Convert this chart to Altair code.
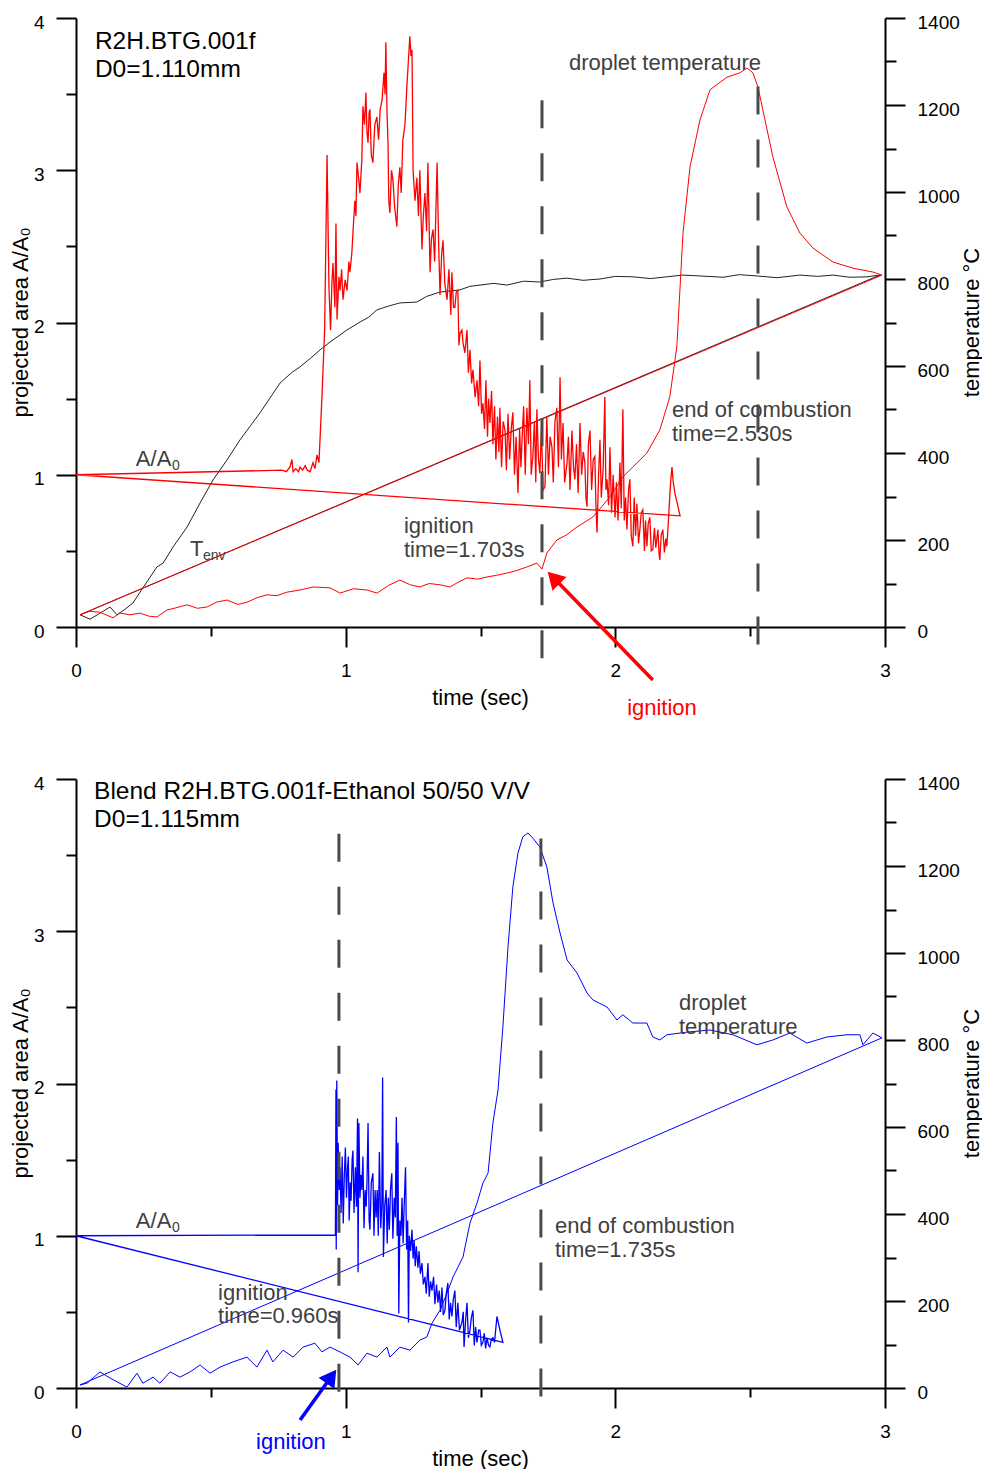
import altair as alt
import pandas as pd

FONT = "Liberation Sans"
GRAY = "#404040"
RED = "#ff0000"
BLUE = "#0000ff"
DARK = "#222222"
W, H = 809, 609

# ---------------- top panel (R2H.BTG.001f) ----------------
top_area_t = [0.000, 0.764, 0.780, 0.793, 0.801, 0.805, 0.815, 0.825, 0.831, 0.840, 0.850, 0.858, 0.868,
              0.879, 0.886, 0.894, 0.901, 0.912, 0.916, 0.922, 0.931, 0.938, 0.944, 0.949, 0.953, 0.960,
              0.964, 0.968, 0.975, 0.979, 0.985, 0.990, 0.998, 1.005, 1.012, 1.016, 1.023, 1.027, 1.034,
              1.038, 1.042, 1.048, 1.053, 1.060, 1.064, 1.070, 1.075, 1.079, 1.083, 1.087, 1.090, 1.095,
              1.101, 1.108, 1.116, 1.122, 1.128, 1.135, 1.142, 1.146, 1.149, 1.153, 1.157, 1.160, 1.164,
              1.170, 1.175, 1.182, 1.190, 1.195, 1.201, 1.206, 1.212, 1.220, 1.227, 1.232, 1.238, 1.242,
              1.246, 1.250, 1.257, 1.264, 1.270, 1.275, 1.283, 1.288, 1.294, 1.300, 1.305, 1.313, 1.318,
              1.324, 1.330, 1.339, 1.345, 1.350, 1.356, 1.361, 1.368, 1.376, 1.383, 1.390, 1.394, 1.400,
              1.405, 1.410, 1.416, 1.420, 1.424, 1.431, 1.435, 1.442, 1.450, 1.455, 1.461, 1.467, 1.472,
              1.480, 1.487, 1.493, 1.498, 1.504, 1.509, 1.515, 1.520, 1.526, 1.530, 1.535, 1.541, 1.546,
              1.552, 1.557, 1.563, 1.568, 1.572, 1.578, 1.584, 1.591, 1.596, 1.602, 1.608, 1.614, 1.620,
              1.626, 1.632, 1.639, 1.645, 1.650, 1.654, 1.660, 1.666, 1.672, 1.678, 1.683, 1.688, 1.694,
              1.700, 1.705, 1.709, 1.715, 1.720, 1.726, 1.732, 1.739, 1.746, 1.752, 1.758, 1.765, 1.770,
              1.776, 1.783, 1.789, 1.795, 1.800, 1.806, 1.812, 1.821, 1.826, 1.832, 1.839, 1.845, 1.850,
              1.856, 1.862, 1.869, 1.875, 1.881, 1.887, 1.891, 1.895, 1.900, 1.906, 1.912, 1.918, 1.924,
              1.928, 1.932, 1.938, 1.943, 1.948, 1.955, 1.961, 1.965, 1.969, 1.975, 1.980, 1.986, 1.992,
              1.999, 2.004, 2.010, 2.017, 2.022, 2.028, 2.033, 2.038, 2.043, 2.049, 2.054, 2.059, 2.065,
              2.070, 2.075, 2.080, 2.086, 2.091, 2.096, 2.102, 2.108, 2.112, 2.117, 2.122, 2.128, 2.133,
              2.139, 2.145, 2.150, 2.158, 2.162, 2.165, 2.170, 2.176, 2.182, 2.187, 2.191, 2.195, 2.200,
              2.205, 2.210, 2.215, 2.221, 2.240]
top_area_v = [1.00, 1.03, 1.02, 1.05, 1.10, 1.02, 1.04, 1.02, 1.05, 1.03, 1.06, 1.03, 1.02,
              1.08, 1.04, 1.13, 1.08, 1.51, 1.69, 1.95, 3.10, 2.23, 1.95, 2.26, 2.39, 2.10,
              2.65, 2.02, 2.30, 2.21, 2.35, 2.15, 2.28, 2.21, 2.40, 2.33, 2.46, 2.59, 2.80,
              2.70, 3.05, 2.95, 2.85, 3.07, 3.42, 3.30, 3.51, 3.25, 3.18, 3.38, 3.40, 3.10,
              3.05, 3.30, 3.35, 3.20, 3.40, 3.46, 3.64, 3.50, 3.84, 3.40, 3.18, 2.80, 2.72,
              3.00, 2.94, 2.75, 2.63, 2.90, 3.02, 2.85, 3.20, 3.30, 3.55, 3.70, 3.88, 3.75,
              3.79, 3.00, 2.80, 2.95, 2.70, 3.00, 2.48, 2.70, 2.85, 2.60, 3.05, 2.33, 2.55,
              2.61, 2.40, 3.05, 2.50, 2.18, 2.45, 2.54, 2.25, 2.15, 2.35, 2.05, 2.33, 2.10,
              2.10, 2.20, 2.21, 1.85, 1.93, 1.95, 1.87, 1.80, 1.95, 1.67, 1.82, 1.60, 1.69,
              1.51, 1.62, 1.45, 1.75, 1.40, 1.47, 1.30, 1.62, 1.25, 1.50, 1.34, 1.55, 1.20,
              1.45, 1.10, 1.38, 1.15, 1.44, 1.05, 1.35, 1.29, 1.03, 1.40, 1.10, 1.30, 1.41,
              1.00, 1.25, 0.88, 1.30, 1.05, 1.23, 1.45, 1.00, 1.44, 1.20, 1.62, 1.00, 1.12,
              1.35, 0.95, 1.43, 1.10, 1.01, 1.30, 0.90, 0.92, 1.38, 1.00, 1.25, 1.18, 0.95,
              1.35, 1.44, 1.05, 1.64, 1.10, 1.34, 0.95, 1.08, 1.25, 0.90, 1.29, 1.05, 0.97,
              1.20, 0.88, 1.34, 1.00, 1.15, 1.08, 0.85, 0.79, 1.20, 1.29, 0.90, 1.10, 1.12,
              0.80, 0.62, 1.00, 1.23, 0.85, 1.05, 1.51, 0.90, 0.97, 0.80, 1.18, 0.75, 1.00,
              0.72, 0.95, 0.70, 1.08, 0.78, 1.43, 0.70, 0.85, 0.64, 0.90, 0.97, 0.60, 0.53,
              0.85, 0.60, 0.81, 0.55, 0.64, 0.75, 0.77, 0.50, 0.70, 0.53, 0.68, 0.72, 0.50,
              0.51, 0.65, 0.52, 0.64, 0.48, 0.44, 0.60, 0.64, 0.49, 0.58, 0.53, 0.64, 0.80,
              0.95, 1.05, 0.95, 0.88, 0.73]

top_env_t = [0.015, 0.052, 0.090, 0.126, 0.152, 0.180, 0.211, 0.248, 0.300, 0.323, 0.360, 0.412, 0.460,
             0.508, 0.560, 0.608, 0.682, 0.757, 0.800, 0.831, 0.870, 0.905, 0.942, 1.005, 1.053, 1.085,
             1.116, 1.160, 1.201, 1.264, 1.300, 1.350, 1.424, 1.460, 1.498, 1.550, 1.598, 1.660, 1.720,
             1.770, 1.821, 1.880, 1.943, 2.000, 2.065, 2.130, 2.191, 2.250, 2.314, 2.400, 2.460, 2.525,
             2.600, 2.684, 2.750, 2.807, 2.870, 2.933, 2.981]
top_env_v = [28, 18, 32, 46, 28, 40, 55, 90, 138, 147, 184, 230, 285,
             338, 384, 430, 492, 561, 585, 598, 618, 637, 655, 683, 701, 712,
             729, 738, 745, 747, 760, 770, 775, 783, 786, 790, 786, 795, 793,
             799, 802, 797, 800, 806, 805, 801, 805, 809, 807, 804, 810, 807,
             803, 809, 806, 809, 804, 805, 809]

top_drop_t = [0.015, 0.050, 0.089, 0.137, 0.163, 0.200, 0.237, 0.270, 0.300, 0.337, 0.370, 0.412, 0.450,
              0.486, 0.520, 0.560, 0.600, 0.634, 0.670, 0.708, 0.745, 0.782, 0.830, 0.879, 0.942, 0.979,
              1.030, 1.079, 1.116, 1.160, 1.201, 1.240, 1.275, 1.310, 1.350, 1.387, 1.420, 1.450, 1.490,
              1.524, 1.560, 1.598, 1.635, 1.672, 1.709, 1.728, 1.746, 1.783, 1.820, 1.858, 1.917, 1.980,
              2.028, 2.065, 2.117, 2.165, 2.202, 2.228, 2.251, 2.277, 2.314, 2.351, 2.414, 2.462, 2.488,
              2.510, 2.529, 2.547, 2.584, 2.636, 2.684, 2.733, 2.807, 2.881, 2.955, 2.989]
top_drop_v = [28, 36, 34, 21, 32, 28, 32, 25, 23, 39, 44, 51, 43,
              46, 57, 62, 52, 57, 67, 74, 72, 80, 85, 92, 90, 78,
              88, 85, 78, 96, 108, 97, 92, 100, 97, 92, 104, 113, 110,
              115, 119, 124, 130, 138, 147, 133, 170, 200, 212, 230, 253, 299,
              345, 368, 400, 453, 529, 644, 906, 1058, 1166, 1235, 1264, 1274, 1285,
              1274, 1241, 1189, 1081, 966, 906, 871, 839, 825, 816, 809]

# ---------------- bottom panel (blend) ----------------
bot_area_t = [0.000, 0.962, 0.964, 0.965, 0.967, 0.970, 0.972, 0.976, 0.979, 0.983, 0.987, 0.991, 0.995,
              0.999, 1.003, 1.007, 1.010, 1.013, 1.017, 1.020, 1.024, 1.027, 1.031, 1.036, 1.040, 1.044,
              1.046, 1.049, 1.053, 1.057, 1.060, 1.064, 1.068, 1.072, 1.076, 1.079, 1.083, 1.087, 1.090,
              1.095, 1.101, 1.105, 1.109, 1.113, 1.117, 1.121, 1.125, 1.130, 1.134, 1.137, 1.140, 1.145,
              1.150, 1.154, 1.158, 1.162, 1.166, 1.171, 1.175, 1.180, 1.184, 1.188, 1.191, 1.194, 1.197,
              1.201, 1.205, 1.209, 1.213, 1.217, 1.222, 1.226, 1.230, 1.233, 1.236, 1.241, 1.246, 1.250,
              1.254, 1.258, 1.262, 1.268, 1.272, 1.277, 1.283, 1.288, 1.294, 1.299, 1.305, 1.310, 1.315,
              1.320, 1.326, 1.331, 1.337, 1.342, 1.347, 1.352, 1.357, 1.362, 1.368, 1.373, 1.379, 1.384,
              1.389, 1.394, 1.399, 1.405, 1.410, 1.416, 1.422, 1.431, 1.436, 1.439, 1.445, 1.450, 1.455,
              1.461, 1.466, 1.472, 1.477, 1.482, 1.487, 1.493, 1.498, 1.503, 1.509, 1.514, 1.519, 1.524,
              1.530, 1.535, 1.540, 1.546, 1.552, 1.561, 1.572, 1.583]
bot_area_v = [1.00, 1.005, 1.96, 0.91, 2.02, 1.20, 1.61, 1.30, 1.45, 1.15, 1.52, 1.08, 1.40,
              1.58, 1.25, 1.45, 1.52, 1.10, 1.35, 1.23, 1.50, 1.56, 1.15, 1.45, 1.19, 1.77,
              0.76, 1.74, 1.25, 1.40, 1.30, 1.52, 1.05, 1.30, 1.19, 1.35, 1.74, 1.10, 1.04,
              1.35, 1.41, 1.00, 1.30, 1.12, 1.30, 1.00, 1.55, 1.05, 1.20, 2.04, 0.86, 1.20,
              1.30, 0.95, 1.25, 1.04, 1.30, 1.41, 0.98, 1.25, 1.12, 1.78, 1.00, 1.61, 0.49,
              1.10, 1.00, 1.25, 0.95, 1.20, 1.45, 0.91, 1.10, 0.43, 1.00, 0.90, 1.04, 0.85,
              0.97, 0.80, 0.93, 0.79, 0.90, 0.75, 0.82, 0.68, 0.73, 0.62, 0.82, 0.60, 0.70,
              0.64, 0.73, 0.55, 0.68, 0.56, 0.64, 0.50, 0.66, 0.48, 0.51, 0.62, 0.69, 0.45,
              0.56, 0.47, 0.58, 0.64, 0.40, 0.56, 0.38, 0.43, 0.50, 0.27, 0.45, 0.56, 0.33,
              0.38, 0.46, 0.51, 0.28, 0.40, 0.30, 0.38, 0.38, 0.28, 0.30, 0.36, 0.26, 0.33,
              0.28, 0.27, 0.32, 0.33, 0.30, 0.47, 0.38, 0.30]

bot_drop_t = [0.015, 0.041, 0.089, 0.126, 0.189, 0.226, 0.248, 0.286, 0.311, 0.349, 0.386, 0.423, 0.460,
              0.497, 0.534, 0.582, 0.634, 0.671, 0.708, 0.730, 0.768, 0.805, 0.842, 0.886, 0.912, 0.942,
              0.979, 1.016, 1.046, 1.079, 1.116, 1.153, 1.164, 1.201, 1.238, 1.275, 1.301, 1.320, 1.350,
              1.376, 1.398, 1.435, 1.461, 1.487, 1.509, 1.528, 1.546, 1.565, 1.583, 1.602, 1.620, 1.639,
              1.657, 1.676, 1.694, 1.720, 1.746, 1.769, 1.795, 1.821, 1.858, 1.895, 1.917, 1.969, 2.006,
              2.028, 2.065, 2.117, 2.139, 2.165, 2.191, 2.265, 2.351, 2.436, 2.525, 2.584, 2.647, 2.710,
              2.785, 2.859, 2.907, 2.918, 2.955, 2.989]
bot_drop_v = [7, 11, 37, 23, 2, 34, 11, 25, 11, 37, 25, 37, 53,
              34, 48, 60, 71, 48, 87, 60, 87, 71, 94, 103, 83, 94,
              83, 71, 53, 80, 71, 94, 71, 94, 87, 110, 117, 149, 179,
              218, 255, 301, 379, 425, 471, 494, 609, 685, 830, 1014, 1152, 1230,
              1267, 1276, 1264, 1244, 1198, 1115, 1046, 984, 954, 908, 892, 876, 846,
              858, 839, 839, 807, 800, 812, 818, 823, 812, 789, 800, 816, 793,
              807, 812, 812, 789, 816, 805]

# dashed event lines: time, top, bottom (in A/A0 units)
top_events = {"t": [1.728, 2.529], "a": [3.46, 3.55], "a2": [-0.25, -0.15]}
bot_events = {"t": [0.975, 1.724], "a": [3.64, 3.61], "a2": [-0.08, -0.11]}

# annotations
top_text_t = [0.070, 0.070, 1.828, 2.210, 2.210, 1.216, 1.216, 0.222, 0.356, 0.423, 0.471]
top_text_a = [3.842, 3.658, 3.704, 1.425, 1.268, 0.663, 0.506, 1.103, 1.057, 0.512, 0.466]
top_text_s = ["R2H.BTG.001f", "D0=1.110mm", "droplet temperature", "end of combustion", "time=2.530s",
              "ignition", "time=1.703s", "A/A", "0", "T", "env"]
top_text_size = [24.5, 24.5, 22, 22, 22, 22, 22, 22, 14, 22, 14]
top_text_col = ["#000000", "#000000", GRAY, GRAY, GRAY, GRAY, GRAY, GRAY, GRAY, GRAY, GRAY]

bot_text_t = [0.067, 0.067, 2.236, 2.236, 1.776, 1.776, 0.527, 0.527, 0.222, 0.356]
bot_text_a = [3.915, 3.731, 2.529, 2.371, 1.064, 0.906, 0.624, 0.473, 1.097, 1.051]
bot_text_s = ["Blend R2H.BTG.001f-Ethanol 50/50 V/V", "D0=1.115mm", "droplet", "temperature",
              "end of combustion", "time=1.735s", "ignition", "time=0.960s", "A/A", "0"]
bot_text_size = [24.5, 24.5, 22, 22, 22, 22, 22, 22, 22, 14]
bot_text_col = ["#000000", "#000000", GRAY, GRAY, GRAY, GRAY, GRAY, GRAY, GRAY, GRAY]

# arrows: tail (t, a), head centre (t2, a2), label position
top_arrow = {"t": [2.139], "a": [-0.348], "t2": [1.771], "a2": [0.323], "label_t": [2.173], "label_a": [-0.532]}
bot_arrow = {"t": [0.831], "a": [-0.210], "t2": [0.947], "a2": [0.075], "label_t": [0.797], "label_a": [-0.355]}

XS = alt.Scale(domain=[0, 3], nice=False, zero=False)
AS = alt.Scale(domain=[0, 4], nice=False)
TS = alt.Scale(domain=[0, 1400], nice=False)

AX = dict(domainColor="black", tickColor="black", labelColor="black", labelFont=FONT, labelFontSize=19,
          titleFont=FONT, titleFontSize=22, titleFontWeight="normal", titleColor="black", grid=False,
          domainWidth=2, tickWidth=2, labelFlush=False)

x_major = alt.Axis(orient="bottom", values=[0, 1, 2, 3], tickSize=20, labelPadding=14, format="d",
                   title="time (sec)", titleX=404, titleY=70, titleAlign="center", titleBaseline="middle", **AX)
x_minor = alt.Axis(orient="bottom", values=[0.5, 1.5, 2.5], tickSize=9, labels=False, domain=False,
                   title=None, grid=False, tickColor="black", tickWidth=2)
yl_major = alt.Axis(orient="left", values=[0, 1, 2, 3, 4], tickSize=20, labelPadding=12, labelOffset=4,
                    format="d", title="projected area A/A₀", titleAngle=270, titleX=-56, titleY=304,
                    titleAlign="center", titleBaseline="middle", **AX)
yl_minor = alt.Axis(orient="left", values=[0.5, 1.5, 2.5, 3.5], tickSize=10, labels=False, domain=False,
                    title=None, grid=False, tickColor="black", tickWidth=2)
yr_major = alt.Axis(orient="right", values=[0, 200, 400, 600, 800, 1000, 1200, 1400], tickSize=20,
                    labelPadding=12, labelOffset=4, format="d", title="temperature  °C", titleAngle=270,
                    titleX=86, titleY=304, titleAlign="center", titleBaseline="middle", **AX)
yr_minor = alt.Axis(orient="right", values=[100, 300, 500, 700, 900, 1100, 1300], tickSize=11, labels=False,
                    domain=False, title=None, grid=False, tickColor="black", tickWidth=2)


def path_df(ts, vs):
    ts = list(ts) + [ts[0]]
    vs = list(vs) + [vs[0]]
    return pd.DataFrame({"t": ts, "v": vs, "i": list(range(len(ts)))})


def xenc(axis=None, field="t"):
    return alt.X(f"{field}:Q", scale=XS, axis=axis)


def line(df, color, scale, width=1.0):
    return alt.Chart(df).mark_line(color=color, strokeWidth=width, strokeJoin="miter").encode(
        x=xenc(), y=alt.Y("v:Q", scale=scale, axis=None), order="i:Q")


def axis_carrier(x_axis=None, y_axis=None, yscale=AS):
    return alt.Chart(pd.DataFrame({"t": [0.0], "v": [0.0]})).mark_point(opacity=0, size=1).encode(
        x=xenc(x_axis), y=alt.Y("v:Q", scale=yscale, axis=y_axis))


def events(d):
    return alt.Chart(pd.DataFrame(d)).mark_rule(color="#4a4a4a", strokeWidth=3, strokeDash=[28, 25]).encode(
        x=xenc(), y=alt.Y("a:Q", scale=AS, axis=None), y2="a2:Q")


def texts(ts, as_, ss, sizes, cols):
    df = pd.DataFrame({"t": ts, "a": as_, "text": ss, "size": sizes, "color": cols})
    return alt.Chart(df).mark_text(align="left", baseline="middle", font=FONT).encode(
        x=xenc(), y=alt.Y("a:Q", scale=AS, axis=None), text="text:N",
        size=alt.Size("size:Q", scale=None), color=alt.Color("color:N", scale=None))


def arrow(d, color, angle):
    df = pd.DataFrame(d)
    shaft = alt.Chart(df).mark_rule(color=color, strokeWidth=3.5).encode(
        x=xenc(), y=alt.Y("a:Q", scale=AS, axis=None), x2="t2:Q", y2="a2:Q")
    head = alt.Chart(df).mark_point(shape="triangle-up", filled=True, size=380, opacity=1, color=color,
                                    angle=angle).encode(
        x=xenc(field="t2"), y=alt.Y("a2:Q", scale=AS, axis=None))
    label = alt.Chart(df).mark_text(text="ignition", align="center", baseline="middle", font=FONT,
                                    fontSize=22, color=color).encode(
        x=xenc(field="label_t"), y=alt.Y("label_a:Q", scale=AS, axis=None))
    return [shaft, head, label]


def carriers():
    return [axis_carrier(x_axis=x_major, y_axis=yl_major),
            axis_carrier(x_axis=x_minor, y_axis=yl_minor),
            axis_carrier(y_axis=yr_major, yscale=TS),
            axis_carrier(y_axis=yr_minor, yscale=TS)]


anchor = alt.Chart(pd.DataFrame({"k": [0]})).mark_rule(strokeOpacity=0, strokeWidth=0.01).encode(
    x=alt.value(-76), x2=alt.value(-75), y=alt.value(-18), y2=alt.value(-18))

top_layers = carriers() + [
    line(path_df(top_env_t, top_env_v), DARK, TS),
    line(path_df(top_drop_t, top_drop_v), RED, TS),
    line(path_df(top_area_t, top_area_v), RED, AS, width=1.3),
    events(top_events),
    texts(top_text_t, top_text_a, top_text_s, top_text_size, top_text_col),
] + arrow(top_arrow, RED, 315.8) + [anchor]

bot_layers = carriers() + [
    line(path_df(bot_drop_t, bot_drop_v), BLUE, TS),
    line(path_df(bot_area_t, bot_area_v), BLUE, AS, width=1.3),
    events(bot_events),
    texts(bot_text_t, bot_text_a, bot_text_s, bot_text_size, bot_text_col),
] + arrow(bot_arrow, BLUE, 35.7)

top = alt.layer(*top_layers).resolve_scale(x="independent", y="independent").properties(width=W, height=H)
bot = alt.layer(*bot_layers).resolve_scale(x="independent", y="independent").properties(width=W, height=H)

chart = alt.vconcat(top, bot, spacing=152, bounds="flush").properties(
    padding={"left": 0, "top": 0, "right": 0, "bottom": 0}, background="white"
).configure_view(stroke=None)

chart.save("out.html", embed_options={"renderer": "svg", "actions": False})
